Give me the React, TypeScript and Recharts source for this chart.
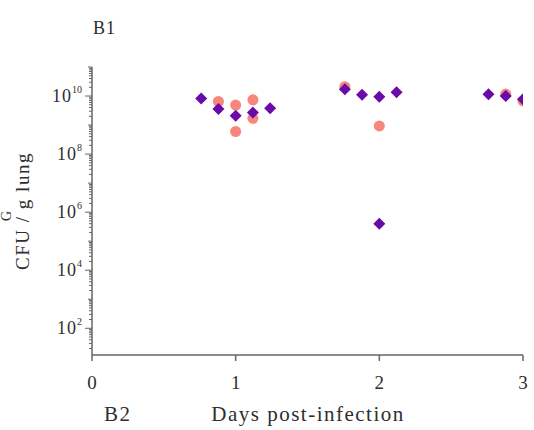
import React from 'react';
import { ScatterChart, Scatter, XAxis, YAxis } from 'recharts';

// Group A (salmon circles)
const salmonDays = [0.88, 1.0, 1.12, 1.12, 1.0, 1.76, 2.0, 2.88, 3.0];
const salmonCfu = [6.5e9, 4.9e9, 7.4e9, 1.7e9, 6.0e8, 2.1e10, 9.3e8, 1.17e10, 6.8e9];

// Group B (purple diamonds)
const purpleDays = [0.76, 0.88, 1.0, 1.12, 1.24, 1.76, 1.88, 2.0, 2.12, 2.0, 2.76, 2.88, 3.0];
const purpleCfu = [8.3e9, 3.6e9, 2.1e9, 2.7e9, 3.8e9, 1.7e10, 1.1e10, 9.5e9, 1.35e10, 4.0e5, 1.15e10, 1.0e10, 7.8e9];

const xTicks = [0, 1, 2, 3];
const majorExponents = [2, 4, 6, 8, 10];
const decadeExponents = [1, 2, 3, 4, 5, 6, 7, 8, 9, 10];
const minorMultipliers = [1, 2, 3, 4, 5, 6, 7, 8, 9];
const yDomain = [12, 1e11];

const salmonData = salmonDays.map((d, i) => ({ day: d, cfu: salmonCfu[i] }));
const purpleData = purpleDays.map((d, i) => ({ day: d, cfu: purpleCfu[i] }));

const yTicks: number[] = [];
decadeExponents.forEach((e) => {
  minorMultipliers.forEach((m) => {
    const v = m * Math.pow(10, e);
    if (v >= yDomain[0] && v <= yDomain[1]) yTicks.push(v);
  });
});
yTicks.push(1e11);

const FONT = '"Liberation Serif", "Times New Roman", serif';
const AXIS = '#666';
const TEXT = '#2e2e2e';

const YTick = (props: any) => {
  const { x, y, payload } = props;
  const v = payload.value;
  const e = Math.round(Math.log10(v));
  const isDecade = Math.abs(Math.log10(v) - e) < 1e-6;
  const isMajor = isDecade && majorExponents.includes(e);
  const len = isMajor ? 7 : isDecade ? 4 : 3;
  return (
    <g>
      <line x1={x - len} x2={x} y1={y} y2={y} stroke={AXIS} strokeWidth={1} />
      {isMajor && (
        <text x={x - 10} y={y} textAnchor="end" fontFamily={FONT} fill={TEXT} fontSize={18} dominantBaseline="central">
          <tspan letterSpacing={1}>10</tspan>
          <tspan fontSize={10} dy={-7}>{e}</tspan>
        </text>
      )}
    </g>
  );
};

const Diamond = (props: any) => {
  const { cx, cy } = props;
  const r = 6;
  return <polygon points={`${cx},${cy - r} ${cx + r},${cy} ${cx},${cy + r} ${cx - r},${cy}`} fill="#6A0AA8" />;
};

const Dot = (props: any) => {
  const { cx, cy } = props;
  return <circle cx={cx} cy={cy} r={5.5} fill="#F7877C" />;
};

export default function App() {
  return (
    <div style={{ position: 'absolute', left: 0, top: 0, width: 534, height: 430, background: '#fff' }}>
      <ScatterChart width={534} height={430} margin={{ top: 67, right: 11, bottom: 45, left: 0 }}>
        <XAxis
          type="number"
          dataKey="day"
          domain={[0, 3]}
          ticks={xTicks}
          interval={0}
          stroke={AXIS}
          strokeWidth={1.5}
          tickSize={6}
          tickMargin={15}
          height={30}
          tick={{ fill: TEXT, fontSize: 19, fontFamily: FONT }}
          allowDataOverflow
        />
        <YAxis
          type="number"
          dataKey="cfu"
          scale="log"
          domain={yDomain}
          ticks={yTicks}
          interval={0}
          width={92}
          stroke={AXIS}
          strokeWidth={1.5}
          tickLine={false}
          tickSize={0}
          tickMargin={0}
          tick={<YTick />}
          allowDataOverflow
        />
        <Scatter data={salmonData} shape={<Dot />} isAnimationActive={false} />
        <Scatter data={purpleData} shape={<Diamond />} isAnimationActive={false} />
      </ScatterChart>
      <svg width={534} height={430} style={{ position: 'absolute', left: 0, top: 0, pointerEvents: 'none' }}>
        <text x={93} y={34} fontFamily={FONT} fontSize={18} fill={TEXT} letterSpacing={1}>B1</text>
        <text x={104} y={421} fontFamily={FONT} fontSize={21} fill={TEXT} letterSpacing={1.5}>B2</text>
        <text x={308} y={421} textAnchor="middle" fontFamily={FONT} fontSize={21} fill={TEXT} letterSpacing={1.5}>Days post-infection</text>
        <text transform="translate(22,211) rotate(-90)" textAnchor="middle" dominantBaseline="central" fontFamily={FONT} fontSize={19} fill={TEXT} letterSpacing={1.5}>CFU / g lung</text>
        <text transform="translate(6,216) rotate(-90)" textAnchor="middle" dominantBaseline="central" fontFamily={FONT} fontSize={14} fill={TEXT}>G</text>
      </svg>
    </div>
  );
}
